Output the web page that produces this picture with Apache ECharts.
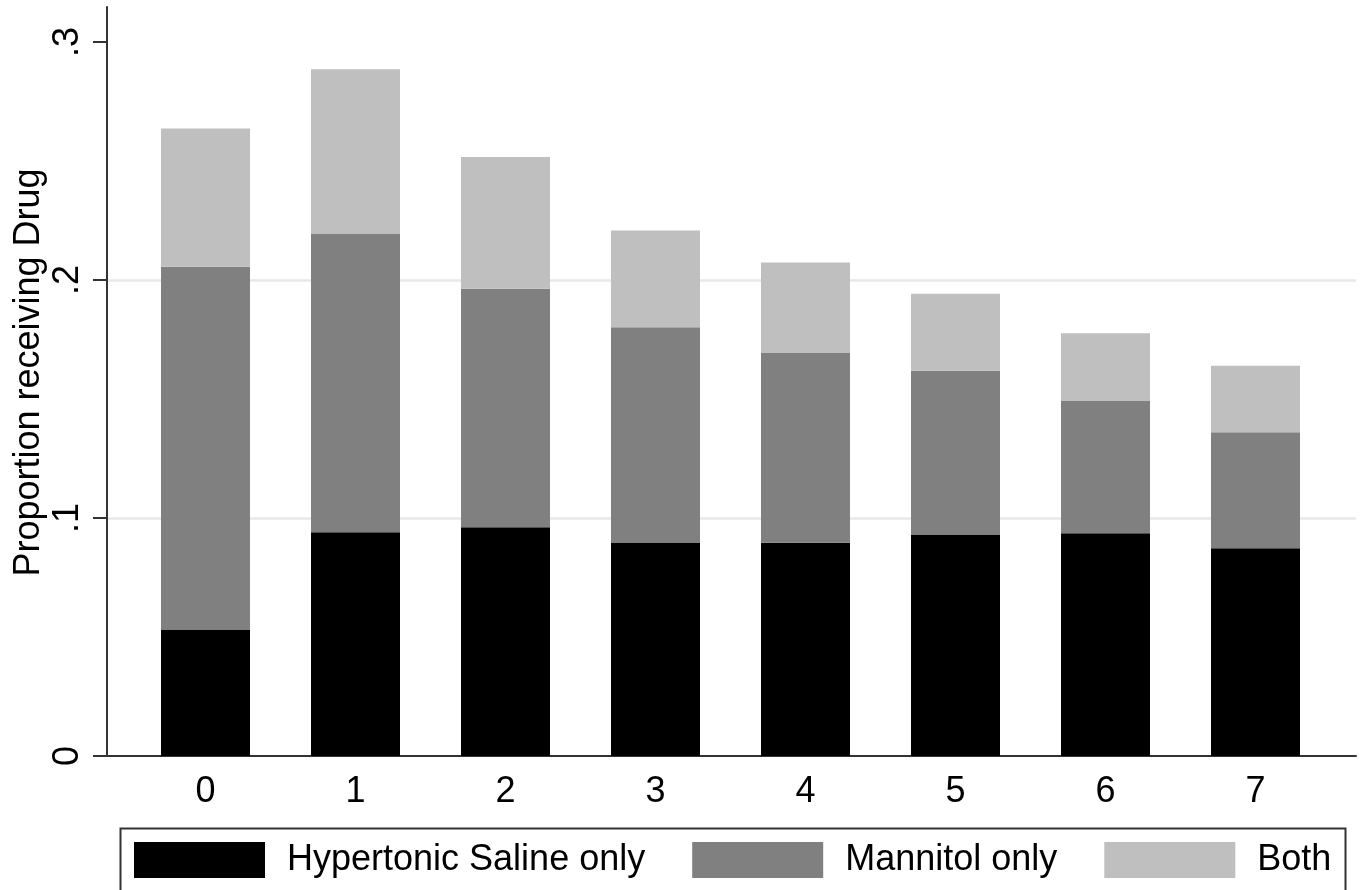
<!DOCTYPE html>
<html>
<head>
<meta charset="utf-8">
<script src="https://cdn.jsdelivr.net/npm/echarts@6/dist/echarts.min.js"></script>
<style>
  html, body { margin: 0; padding: 0; background: #fff; }
  #chart { width: 1365px; height: 890px; }
</style>
</head>
<body>
<div id="chart"></div>
<script>
// ---- data ----
const categories = [0, 1, 2, 3, 4, 5, 6, 7];
const seriesNames = ['Hypertonic Saline only', 'Mannitol only', 'Both'];
const salineOnly   = [0.0531, 0.0940, 0.0961, 0.0897, 0.0896, 0.0929, 0.0936, 0.0873];
const mannitolOnly = [0.1525, 0.1253, 0.1002, 0.0904, 0.0799, 0.0690, 0.0556, 0.0487];
const bothDrugs    = [0.0581, 0.0692, 0.0554, 0.0407, 0.0378, 0.0323, 0.0284, 0.0280];
const yTickValues = [0, 0.1, 0.2, 0.3];
const yTickLabels = ['0', '.1', '.2', '.3'];
const yTitle = 'Proportion receiving Drug';

const FONT = '"Liberation Sans", Arial, Helvetica, sans-serif';
const colors = ['#000000', '#808080', '#bfbfbf'];
const seriesValues = [salineOnly, mannitolOnly, bothDrugs];

const chart = echarts.init(document.getElementById('chart'), null, { renderer: 'canvas' });

// data rows are [value, category] so that the value dimension is stacked
const series = seriesNames.map((name, si) => ({
  name: name,
  type: 'bar',
  stack: 'total',
  barWidth: 89,
  itemStyle: { color: colors[si] },
  emphasis: { disabled: true },
  encode: { x: 1, y: 0 },
  data: categories.map((c, i) => [seriesValues[si][i], c])
}));

const option = {
  animation: false,
  backgroundColor: '#ffffff',
  grid: { left: 107, top: 7, right: 9, bottom: 134, containLabel: false },
  xAxis: {
    type: 'value',
    min: -0.6567,
    max: 7.67,
    axisLine: { show: true, onZero: false, lineStyle: { color: '#333333', width: 2 } },
    axisTick: { show: false },
    splitLine: { show: false },
    axisLabel: {
      customValues: categories,
      formatter: v => String(Math.round(v)),
      color: '#000',
      fontSize: 36,
      fontFamily: FONT,
      margin: 18
    }
  },
  yAxis: {
    type: 'value',
    min: 0,
    max: 0.3147,
    interval: 0.1,
    name: yTitle,
    nameLocation: 'middle',
    nameRotate: 90,
    nameGap: 60,
    nameMoveOverlap: false,
    nameTextStyle: { color: '#000', fontSize: 36, fontFamily: FONT, padding: [0, 0, 0, 18] },
    axisLine: { show: true, onZero: false, lineStyle: { color: '#333333', width: 2 } },
    axisTick: { show: true, customValues: yTickValues, length: 14, lineStyle: { color: '#333333', width: 2 } },
    splitLine: { show: true, showMinLine: false, showMaxLine: false, lineStyle: { color: '#e8e8e8', width: 2.5 } },
    axisLabel: {
      customValues: yTickValues,
      rotate: 90,
      margin: 21,
      color: '#000',
      fontSize: 36,
      fontFamily: FONT,
      formatter: v => {
        const idx = yTickValues.findIndex(t => Math.abs(t - v) < 1e-9);
        return idx >= 0 ? yTickLabels[idx] : '';
      }
    }
  },
  legend: {
    data: seriesNames,
    left: 134,
    top: 842,
    orient: 'horizontal',
    icon: 'rect',
    itemWidth: 131,
    itemHeight: 36,
    itemGap: 47,
    padding: 0,
    selectedMode: false,
    textStyle: { color: '#000', fontSize: 36, fontFamily: FONT, padding: [0, 0, 0, 17] }
  },
  graphic: [{
    type: 'rect',
    left: 118,
    top: 826,
    shape: { x: 0, y: 0, width: 1225, height: 90 },
    style: { fill: 'none', stroke: '#333333', lineWidth: 2 },
    silent: true
  }],
  series: series
};

chart.setOption(option);
</script>
</body>
</html>
